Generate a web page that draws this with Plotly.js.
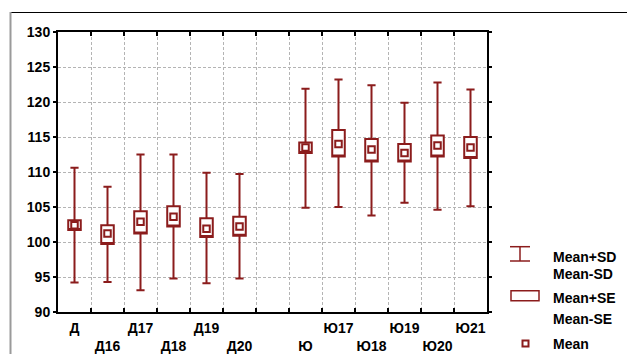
<!DOCTYPE html>
<html>
<head>
<meta charset="utf-8">
<script src="https://cdn.plot.ly/plotly-3.0.1.min.js"></script>
<style>html,body{margin:0;padding:0;background:#fff;}#chart{width:627px;height:354px;}</style>
</head>
<body>
<div id="chart"></div>
<script>
// Axis slots (one empty slot between the two groups)
const axisCategories = ['Д','Д16','Д17','Д18','Д19','Д20','gap','Ю','Ю17','Ю18','Ю19','Ю20','Ю21'];
const tickLabels     = ['Д','Д16','Д17','Д18','Д19','Д20','','Ю','Ю17','Ю18','Ю19','Ю20','Ю21'];
const yTicks         = [90, 95, 100, 105, 110, 115, 120, 125, 130];

// Groups with data
const groups = ['Д','Д16','Д17','Д18','Д19','Д20','Ю','Ю17','Ю18','Ю19','Ю20','Ю21'];
const means  = [102.4, 101.2, 102.9, 103.6, 101.9, 102.2, 113.5, 114.0, 113.2, 112.7, 113.8, 113.5];
const seLow  = [101.7,  99.7, 101.2, 102.2, 100.7, 100.9, 112.7, 112.2, 111.5, 111.5, 112.2, 112.0];
const seHigh = [103.1, 102.4, 104.4, 105.1, 103.4, 103.6, 114.2, 116.0, 114.7, 114.0, 115.2, 115.0];
const sdLow  = [ 94.2,  94.3,  93.1,  94.8,  94.1,  94.8, 104.9, 105.0, 103.8, 105.6, 104.6, 105.1];
const sdHigh = [110.6, 107.9, 112.5, 112.5, 109.9, 109.7, 121.9, 123.2, 122.4, 119.9, 122.8, 121.8];

const RED = '#8b1c1c';
const W = 627, H = 354;
const M = {l: 58, r: 140, t: 32, b: 42};
const pw = W - M.l - M.r, ph = H - M.t - M.b;
const px = x => (x - M.l) / pw;
const py = y => (H - M.b - y) / ph;

// alternate tick rows
const tickText = tickLabels.map((t, i) => (i % 2 === 1 ? '<br><b>' + t + '</b>' : '<b>' + t + '</b>'));

const traces = [
  {
    type: 'box',
    x: groups,
    q1: seLow,
    median: seLow,
    q3: seHigh,
    lowerfence: sdLow,
    upperfence: sdHigh,
    width: 0.38,
    whiskerwidth: 0.65,
    fillcolor: '#ffffff',
    line: {color: RED, width: 2},
    boxpoints: false,
    showlegend: false,
    hoverinfo: 'skip'
  },
  {
    type: 'scatter',
    mode: 'markers',
    x: groups,
    y: means,
    marker: {symbol: 'square', size: 6.5, color: '#ffffff', line: {color: RED, width: 2}},
    showlegend: false,
    hoverinfo: 'skip'
  }
];

const fontB = {family: 'Liberation Sans, Arial, sans-serif', size: 14, color: '#000'};

const shapes = [
  // outer frame
  {type: 'line', xref: 'paper', yref: 'paper', x0: px(10), x1: px(627), y0: py(12.5), y1: py(12.5), line: {color: '#000', width: 1.2}},
  {type: 'line', xref: 'paper', yref: 'paper', x0: px(10.5), x1: px(10.5), y0: py(12), y1: py(354), line: {color: '#9a9a9a', width: 2}},
  // legend: SD whisker
  {type: 'line', xref: 'paper', yref: 'paper', x0: px(510), x1: px(530), y0: py(246.7), y1: py(246.7), line: {color: RED, width: 1.5}},
  {type: 'line', xref: 'paper', yref: 'paper', x0: px(510), x1: px(530), y0: py(261), y1: py(261), line: {color: RED, width: 1.5}},
  {type: 'line', xref: 'paper', yref: 'paper', x0: px(520), x1: px(520), y0: py(246.7), y1: py(261), line: {color: RED, width: 1.5}},
  // legend: SE box
  {type: 'rect', xref: 'paper', yref: 'paper', x0: px(511), x1: px(539), y0: py(290.7), y1: py(300.7), line: {color: RED, width: 1.5}, fillcolor: '#fff'},
  // legend: mean
  {type: 'rect', xref: 'paper', yref: 'paper', x0: px(522.5), x1: px(528.5), y0: py(340.5), y1: py(346.5), line: {color: RED, width: 2}, fillcolor: '#fff'}
];

const legendTexts = ['Mean+SD', 'Mean-SD', 'Mean+SE', 'Mean-SE', 'Mean'];
const legendY = [256.5, 274, 298, 319, 343.5];
const annotations = legendTexts.map((t, i) => ({
  xref: 'paper', yref: 'paper', x: px(551), y: py(legendY[i]),
  xanchor: 'left', yanchor: 'middle', showarrow: false, text: '<b>' + t + '</b>', font: fontB
}));

const layout = {
  width: W, height: H,
  margin: M,
  paper_bgcolor: '#fff', plot_bgcolor: '#fff',
  font: fontB,
  showlegend: false,
  xaxis: {
    type: 'category',
    categoryorder: 'array',
    categoryarray: axisCategories,
    tickmode: 'array',
    tickvals: axisCategories,
    ticktext: tickText,
    tickson: 'boundaries',
    tickangle: 0,
    range: [-0.5, 12.5],
    showgrid: true,
    gridcolor: '#b4b4b4',
    griddash: '3px,2px',
    gridwidth: 1,
    showline: true, linecolor: '#000', linewidth: 2, mirror: 'ticks',
    ticks: 'inside', ticklen: 4, tickcolor: '#000', tickwidth: 1.5,
    ticklabelstandoff: 2,
    tickfont: fontB,
    zeroline: false,
    fixedrange: true
  },
  yaxis: {
    range: [90, 130],
    tickmode: 'array',
    tickvals: yTicks,
    ticktext: yTicks.map(v => '<b>' + v + '</b>'),
    showgrid: true,
    gridcolor: '#b4b4b4',
    griddash: '3px,2px',
    gridwidth: 1,
    showline: true, linecolor: '#000', linewidth: 2, mirror: 'ticks',
    ticks: 'outside', ticklen: 3, tickcolor: '#000', tickwidth: 1.5,
    tickfont: fontB,
    zeroline: false,
    fixedrange: true
  },
  shapes: shapes,
  annotations: annotations
};

Plotly.newPlot('chart', traces, layout, {staticPlot: true, displayModeBar: false});
</script>
</body>
</html>
